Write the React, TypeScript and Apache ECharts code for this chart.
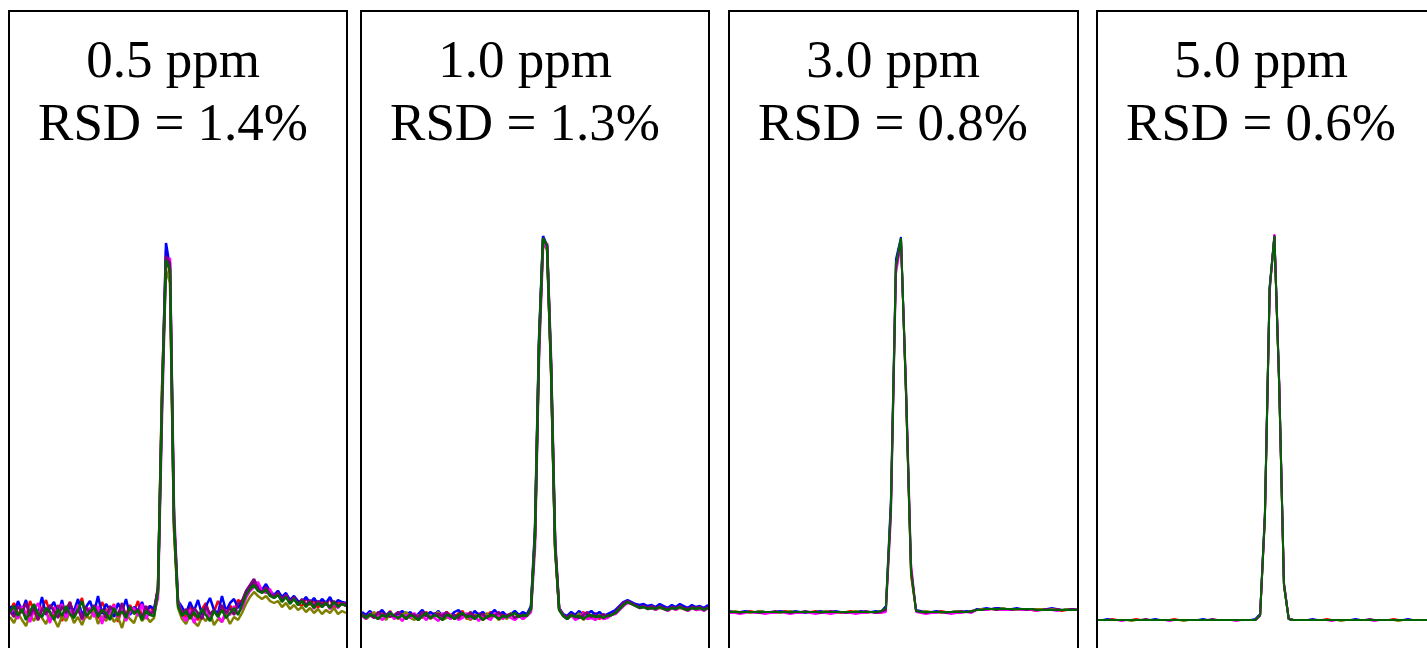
import React, { useEffect, useRef } from "react";
import * as echarts from "echarts";

// Titles
const CONCENTRATIONS = ["0.5 ppm", "1.0 ppm", "3.0 ppm", "5.0 ppm"];
const RSD_LABELS = ["RSD = 1.4%", "RSD = 1.3%", "RSD = 0.8%", "RSD = 0.6%"];

// Replicate names (trace colours are assigned in layout)
const REPLICATES = ["Run 1", "Run 2", "Run 3", "Run 4", "Run 5", "Run 6"];

// Panel 1: 0.5 ppm (signal, arbitrary units)
const P1_R1 = [38,45,33,41,30,47,37,28,40,48,35,32,43,27,39,46,33,40,50,30,37,42,29,46,38,34,44,26,40,33,43,36,47,31,39,42,35, 62,255,398,372,118,44, 37,30,42,33,28,39,45,32,36,47,40,30,43,36,48, 46,55,60,66,61,57,61,53,51,57,47,52,45,51,44,42,50,43,48,40,47,43,50,39,46,44,42];
const P1_R2 = [42,34,47,37,48,32,41,35,51,33,40,46,34,48,30,42,37,49,33,41,47,35,52,34,44,38,31,45,36,49,33,41,37,46,34,42,39, 58,248,405,380,125,47, 41,34,46,37,48,33,42,50,38,35,52,37,45,49,40, 46,56,62,68,62,58,64,57,53,57,51,55,48,52,47,46,51,45,50,44,49,45,51,43,48,46,45];
const P1_R3 = [31,25,35,28,22,33,27,37,30,24,34,29,21,32,27,36,25,31,23,33,29,38,24,32,27,35,26,31,20,34,29,25,36,27,32,26,30, 55,262,378,365,120,40, 29,24,33,26,22,31,27,35,23,29,26,33,24,31,28, 35,44,51,56,52,49,52,47,45,47,41,45,39,43,38,41,36,40,35,39,34,38,35,40,34,37,35];
const P1_R4 = [34,40,29,42,35,26,38,45,32,37,25,41,34,44,30,38,32,43,28,36,40,31,42,24,37,34,43,31,39,27,36,40,32,44,29,37,34, 50,230,385,390,140,48, 33,27,38,25,35,30,40,28,37,32,26,38,33,42,35, 40,50,57,61,66,57,55,59,50,54,47,53,45,50,43,48,42,47,39,46,41,45,39,44,40,45,42];
const P1_R5 = [37,31,42,35,45,32,40,28,39,34,43,37,30,42,35,46,32,39,29,41,35,43,33,39,30,42,37,33,45,32,40,35,39,30,42,34,37, 60,250,392,385,130,45, 34,39,31,40,35,29,42,34,38,32,43,35,40,33,44, 47,57,63,69,59,56,61,54,52,55,49,53,46,51,44,49,43,48,42,47,43,46,41,47,42,45,44];
const P1_R6 = [36,42,32,39,28,37,44,34,31,40,36,28,39,32,42,34,30,38,47,32,36,41,31,38,35,28,40,32,37,30,41,34,38,28,37,33,32, 57,245,388,378,128,42, 32,37,29,36,30,39,33,27,37,31,38,30,35,40,33, 43,53,59,63,57,55,58,52,50,53,46,51,44,49,43,47,41,46,40,45,41,45,40,46,41,44,42];

// Panel 2: 1.0 ppm
const P2_R1 = [34,30,36,33,29,35,32,37,30,33,36,29,35,32,28,33,36,30,35,32,29,36,33,30,35,37,29,33,30,35,28,32,36,33,29,35,30,33,36,32,35,33, 40,115,305,408,400,275,98,38, 33,30,35,29,33,36,30,32,35,29,33,32,35, 36,40,44,47,45,43,41,42,40,41,39,42,40,38,41,39,42,40,38,41,39,40,38,41];
const P2_R2 = [36,33,37,32,34,38,33,36,31,34,37,33,36,31,34,38,32,36,33,37,31,34,32,36,38,33,34,31,37,33,36,32,34,38,33,36,32,34,37,33,36,34, 42,120,310,412,402,280,102,40, 34,32,36,33,37,32,34,37,33,36,32,34,36, 38,42,46,48,46,44,43,44,42,43,41,44,42,40,43,41,44,42,40,43,41,42,40,43];
const P2_R3 = [33,29,32,36,30,33,28,35,32,29,33,36,30,28,33,30,35,29,32,36,28,30,33,29,32,35,30,28,33,32,29,35,30,33,28,32,29,35,30,33,29,33, 38,110,300,405,398,278,100,39, 33,29,32,30,35,28,32,33,29,33,30,32,33, 35,39,43,46,44,42,40,41,39,40,38,40,39,37,40,38,40,39,37,40,38,39,38,40];
const P2_R4 = [32,29,35,30,33,28,32,35,29,32,27,33,30,35,29,32,28,33,30,27,35,32,29,33,28,30,35,29,32,27,33,30,28,35,32,29,33,30,28,32,29,32, 36,100,290,400,405,290,110,40, 32,29,33,28,30,35,29,30,28,32,29,30,33, 34,38,42,45,44,42,40,41,39,40,38,41,39,37,40,38,41,39,37,40,38,39,37,40];
const P2_R5 = [34,32,33,30,36,32,34,31,33,36,32,30,34,33,31,36,32,30,33,34,32,36,31,33,30,34,32,36,31,33,34,30,33,32,36,31,33,34,30,33,32,33, 39,112,302,410,403,282,104,39, 33,31,34,32,30,33,36,31,33,31,34,32,33, 36,41,45,47,45,43,41,42,40,42,40,42,40,39,41,40,42,40,39,41,40,41,39,41];
const P2_R6 = [33,30,34,32,29,33,31,35,32,30,33,29,33,31,28,32,35,30,33,31,28,33,32,29,33,35,31,32,29,33,28,31,33,32,29,32,31,33,35,31,33,32, 39,112,303,410,402,280,102,38, 32,29,33,31,32,29,32,33,31,32,30,32,33, 35,39,43,46,44,42,40,41,39,40,39,41,39,38,40,39,41,39,38,40,39,40,38,40];

// Panel 3: 3.0 ppm
const P3_R1 = [36,35,36,36,37,36,35,36,36,35,36,37,36,36,35,36,36,37,36,35,36,36,35,36,37,36,36,35,36,36,35, 40,145,386,408,252,72,37, 36,36,35,36,37,36,36,35,36,36,37, 38,39,38,39,40,39,38,39,39,38,39,38,37,39,38,39,38,37,38,39,38];
const P3_R2 = [37,36,36,37,36,36,37,36,35,36,37,36,36,37,36,35,36,36,37,36,36,37,36,36,35,36,37,36,36,37,36, 42,150,389,411,255,78,38, 37,36,36,37,36,35,36,37,36,37,36, 39,39,40,39,40,40,39,39,40,39,38,39,38,39,39,40,39,38,39,39,39];
const P3_R3 = [36,37,36,36,35,36,37,36,36,36,35,36,37,36,36,36,35,36,36,37,36,35,36,36,36,37,36,35,36,36,36, 39,140,382,409,255,75,37, 36,37,36,36,35,36,36,37,36,36,36, 38,39,39,39,38,40,39,39,38,39,39,38,39,39,38,39,39,38,39,38,39];
const P3_R4 = [35,35,34,35,36,35,35,34,35,35,36,35,34,35,35,36,35,34,35,35,34,35,36,35,35,34,35,35,36,35,35, 36,130,374,405,265,85,36, 35,34,35,35,36,35,34,35,35,36,35, 38,38,38,39,39,38,38,38,39,38,38,38,37,38,38,38,37,38,38,38,38];
const P3_R5 = [36,36,35,36,36,36,35,36,36,37,36,36,35,36,36,37,36,36,35,36,37,36,36,35,36,36,36,37,36,35,36, 38,138,380,408,260,80,37, 36,35,36,36,36,35,36,36,37,36,36, 38,38,39,39,38,39,39,38,39,39,38,39,38,38,39,38,39,38,38,39,38];
const P3_R6 = [36,36,36,36,36,36,36,36,36,36,36,36,36,36,36,36,36,36,36,36,36,36,36,36,36,36,36,36,36,36,37, 40,142,384,410,256,76,37, 36,36,36,36,36,36,36,36,36,36,37, 38,38,39,39,39,39,39,39,39,39,39,39,38,38,38,38,38,38,38,38,38];

// Panel 4: 5.0 ppm
const P4_R1 = [28,28,28,29,28,28,28,28,29,28,28,28,28,28,28,28,29,28,28,28,28,28,28,28,28,28,28,28,28,28,28,28,28,28, 33,132,360,410,262,62,29, 28,28,28,28,28,28,28,29,28,28,28,28,28,28,28,28,28,28,28,28,28,29,28,28,28,28,28,28,28];
const P4_R2 = [28,28,29,28,28,28,28,28,28,28,28,28,29,28,28,28,28,28,28,28,28,28,29,28,28,28,28,28,28,28,28,28,28,29, 34,135,362,412,265,64,29, 28,28,28,28,29,28,28,28,28,28,28,28,28,29,28,28,28,28,28,28,28,28,28,28,29,28,28,28,28];
const P4_R3 = [28,28,28,28,28,28,28,27,28,28,28,28,28,28,28,28,28,28,27,28,28,28,28,28,28,28,28,28,28,28,28,28,28,28, 33,130,358,411,262,63,29, 28,28,28,28,28,28,28,28,28,28,27,28,28,28,28,28,28,28,28,28,28,28,27,28,28,28,28,28,28];
const P4_R4 = [28,28,28,28,28,27,28,28,28,28,28,28,28,28,28,27,28,28,28,28,28,28,28,28,28,28,28,28,28,27,28,28,28,28, 32,128,355,414,268,66,29, 28,28,28,28,28,28,28,28,27,28,28,28,28,28,28,28,28,27,28,28,28,28,28,28,28,28,28,28,28];
const P4_R5 = [28,28,28,28,28,28,28,28,28,28,29,28,28,28,28,28,28,28,28,28,28,28,28,28,29,28,28,28,28,28,28,28,28,28, 33,131,359,413,264,64,29, 28,28,28,28,28,28,28,28,28,28,28,28,28,28,28,28,29,28,28,28,28,28,28,28,28,28,28,28,28];
const P4_R6 = [28,28,28,28,28,28,28,28,28,28,28,28,28,28,28,28,28,28,28,28,28,28,28,28,28,28,28,28,28,28,28,28,28,28, 33,131,360,412,263,63,29, 28,28,28,28,28,28,28,28,28,28,28,28,28,28,28,28,28,28,28,28,28,28,28,28,28,28,28,28,28];

const PANEL_DATA = [
  [P1_R1, P1_R2, P1_R3, P1_R4, P1_R5, P1_R6],
  [P2_R1, P2_R2, P2_R3, P2_R4, P2_R5, P2_R6],
  [P3_R1, P3_R2, P3_R3, P3_R4, P3_R5, P3_R6],
  [P4_R1, P4_R2, P4_R3, P4_R4, P4_R5, P4_R6],
];

// Layout / styles
const PANEL_X = [9, 361, 729, 1097];
const PANEL_W = [338, 348, 349, 349];
const LINE_W = [2.5, 2.5, 2, 2];
const PANEL_TOP = 11;
const TRACE_COLORS = ["#ff0000", "#0000ff", "#808000", "#ff00ff", "#800080", "#006400"];
const FONT = '"Liberation Serif", "Times New Roman", serif';

export default function App() {
  const ref = useRef<HTMLDivElement>(null);

  useEffect(() => {
    if (!ref.current) return;
    const chart = echarts.init(ref.current, undefined, { renderer: "svg" });

    const grids: any[] = [];
    const xAxes: any[] = [];
    const yAxes: any[] = [];
    const series: any[] = [];
    const graphics: any[] = [];

    PANEL_DATA.forEach((traces, p) => {
      const n = traces[0].length;
      grids.push({ left: PANEL_X[p] + 1, width: PANEL_W[p] - 2, top: 148, height: 500 });
      xAxes.push({
        type: "category",
        gridIndex: p,
        boundaryGap: false,
        data: traces[0].map((_, i) => String(i)),
        show: false,
      });
      yAxes.push({ type: "value", gridIndex: p, min: 0, max: 500, show: false });
      traces.forEach((vals, k) => {
        series.push({
          type: "line",
          name: REPLICATES[k],
          xAxisIndex: p,
          yAxisIndex: p,
          data: vals.slice(0, n),
          symbol: "none",
          lineStyle: { color: TRACE_COLORS[k], width: LINE_W[p] },
          itemStyle: { color: TRACE_COLORS[k] },
          z: 2 + k,
        });
      });
      graphics.push({
        type: "rect",
        shape: { x: PANEL_X[p], y: PANEL_TOP, width: PANEL_W[p], height: 700 },
        style: { fill: "none", stroke: "#000", lineWidth: 2 },
        z: 100,
      });
      const cx = PANEL_X[p] + 164;
      [CONCENTRATIONS[p], RSD_LABELS[p]].forEach((t, r) => {
        graphics.push({
          type: "text",
          x: cx,
          y: r === 0 ? 59 : 122,
          style: {
            text: t,
            fontSize: 53,
            fontFamily: FONT,
            fill: "#000",
            align: "center",
            verticalAlign: "middle",
            textAlign: "center",
            textVerticalAlign: "middle",
          },
          z: 100,
        });
      });
    });

    chart.setOption({
      animation: false,
      backgroundColor: "#fff",
      grid: grids,
      xAxis: xAxes,
      yAxis: yAxes,
      series,
      graphic: graphics,
    });

    return () => chart.dispose();
  }, []);

  return (
    <div
      ref={ref}
      style={{ position: "absolute", left: 0, top: 0, width: 1427, height: 648 }}
    />
  );
}
